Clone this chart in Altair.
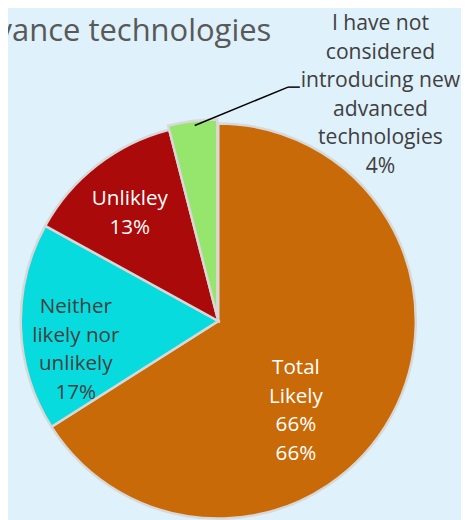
import altair as alt
import pandas as pd

categories = ["Total Likely", "Neither likely nor unlikely", "Unlikley",
              "I have not considered introducing new advanced technologies"]
values = [66, 17, 13, 4]
order = [1, 2, 3, 4]
colors = ["#C96A08", "#08DBDE", "#AA0A0A", "#96E66E"]

label_total = "Total\nLikely\n66%\n66%"
label_neither = "Neither\nlikely nor\nunlikely\n17%"
label_unlikely = "Unlikley\n13%"
label_none = "I have not\nconsidered\nintroducing new\nadvanced\ntechnologies\n4%"
title_text = "vance technologies"

df = pd.DataFrame({"category": categories, "value": values, "order": order})

CX, CY, R = 214, 314, 201

base = alt.Chart(df).transform_window(
    cum="sum(value)", sort=[alt.SortField("order")], frame=[None, 0]
).transform_calculate(start="datum.cum - datum.value")

color_enc = alt.Color("category:N", scale=alt.Scale(domain=categories, range=colors), legend=None)
theta_enc = alt.Theta("start:Q", scale=alt.Scale(domain=[0, 100]))

main = base.transform_filter(alt.datum.order < 4).mark_arc(
    radius=R, stroke="#D8D8D8", strokeWidth=2.5
).encode(
    theta=theta_enc, theta2="cum:Q", color=color_enc,
    x=alt.value(CX), y=alt.value(CY)
)

green = base.transform_filter(alt.datum.order == 4).mark_arc(
    radius=R, stroke="#D8D8D8", strokeWidth=2.5
).encode(
    theta=theta_enc, theta2="cum:Q", color=color_enc,
    x=alt.value(CX - 1), y=alt.value(CY - 4)
)

def txt(label, x, y, color, size=21, align="center", baseline="middle"):
    return alt.Chart(pd.DataFrame({"t": [label]})).mark_text(
        lineBreak="\n", lineHeight=29, fontSize=size, font="Open Sans",
        color=color, align=align, baseline=baseline
    ).encode(text="t:N", x=alt.value(x), y=alt.value(y))

t_total = txt(label_total, 293, 362, "white")
t_neither = txt(label_neither, 69, 300, "#404040")
t_unl = txt(label_unlikely, 124, 190, "white")
t_none = txt(label_none, 379, 12, "#404040", size=21.5)
t_title = txt(title_text, 268, 29, "#595959", size=31.5, align="right", baseline="alphabetic")

leader1 = alt.Chart(pd.DataFrame({"a": [0]})).mark_rule(color="black", strokeWidth=1.5).encode(
    x=alt.value(190), y=alt.value(115), x2=alt.value(285), y2=alt.value(76))
leader2 = alt.Chart(pd.DataFrame({"a": [0]})).mark_rule(color="black", strokeWidth=1.5).encode(
    x=alt.value(285), y=alt.value(76), x2=alt.value(297), y2=alt.value(76))

chart = alt.layer(main, green, leader1, leader2, t_total, t_neither, t_unl, t_none, t_title).properties(
    width=461, height=512, background="#DFF1FB", padding=0,
    autosize=alt.AutoSizeParams(type="none")
).configure_view(stroke=None)

chart.save("out.html", embed_options={"renderer": "svg", "actions": False})
